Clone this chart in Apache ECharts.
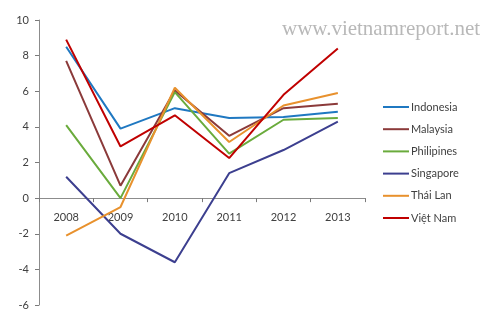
<!DOCTYPE html>
<html><head><meta charset="utf-8">
<script src="https://cdn.jsdelivr.net/npm/echarts@6/dist/echarts.min.js"></script>
<style>html,body{margin:0;padding:0;background:#fff}#c{width:500px;height:317px}</style>
</head><body><div id="c"></div>
<script>
const years = ['2008','2009','2010','2011','2012','2013'];
const indonesia = [8.5, 3.9, 5.05, 4.5, 4.55, 4.85];
const malaysia = [7.7, 0.7, 6.05, 3.5, 5.05, 5.3];
const philipines = [4.1, 0.0, 5.95, 2.5, 4.4, 4.5];
const singapore = [1.2, -2.0, -3.6, 1.4, 2.7, 4.3];
const thaiLan = [-2.1, -0.5, 6.2, 3.15, 5.2, 5.9];
const vietNam = [8.9, 2.9, 4.65, 2.25, 5.8, 8.4];
const yTicks = {min: -6, max: 10, interval: 2};

const names = ['Indonesia','Malaysia','Philipines','Singapore','Thái Lan','Việt Nam'];
const colors = ['#1f78c1','#8b3a3a','#6aab3c','#3c3f8f','#e8912d','#c00000'];
const data = [indonesia, malaysia, philipines, singapore, thaiLan, vietNam];

const W = 500, H = 317;
const gTop = 20, gBottom = 12;
const gHeight = H - gTop - gBottom;
const zeroFromBottom = (0 - yTicks.min) / (yTicks.max - yTicks.min) * gHeight;

const chart = echarts.init(document.getElementById('c'), null, {renderer:'canvas'});
const font = 'Lato, "Noto Sans", sans-serif';
chart.setOption({
  animation: false,
  textStyle: {fontFamily: font},
  graphic: [{
    type: 'text', left: 282, top: 19,
    style: {text: 'www.vietnamreport.net', fill: '#b8b8b8', font: '21px "Liberation Serif", "DejaVu Serif", serif'}
  }],
  grid: {left: 39, right: 135, top: gTop, bottom: gBottom, containLabel: false},
  legend: {
    orient: 'vertical', left: 383, top: 100, itemGap: 8.2, padding: 0,
    itemWidth: 26, itemHeight: 14, icon: 'path://M0,6 L26,6 L26,8 L0,8 Z',
    textStyle: {fontFamily: font, fontSize: 11, color: '#404040', padding: [0,0,0,-3], lineHeight: 14},
    data: names
  },
  xAxis: {
    type: 'category', data: years, boundaryGap: true,
    offset: -zeroFromBottom,
    axisLine: {onZero: false, lineStyle: {color: '#8c8c8c', width: 1}},
    axisTick: {show: true, length: 4, lineStyle: {color: '#7a7a7a'}},
    axisLabel: {fontFamily: font, fontSize: 11, color: '#404040', margin: 14},
    splitLine: {show: false}
  },
  yAxis: {
    type: 'value', min: yTicks.min, max: yTicks.max, interval: yTicks.interval,
    axisLine: {show: true, lineStyle: {color: '#8c8c8c', width: 1}},
    axisTick: {show: true, length: 4, lineStyle: {color: '#7a7a7a'}},
    axisLabel: {fontFamily: font, fontSize: 11, color: '#404040', margin: 10},
    splitLine: {show: false}
  },
  series: names.map((n, i) => ({
    name: n, type: 'line', data: data[i], showSymbol: false, symbol: 'none',
    lineStyle: {color: colors[i], width: 2}, itemStyle: {color: colors[i]}
  }))
});
</script></body></html>
